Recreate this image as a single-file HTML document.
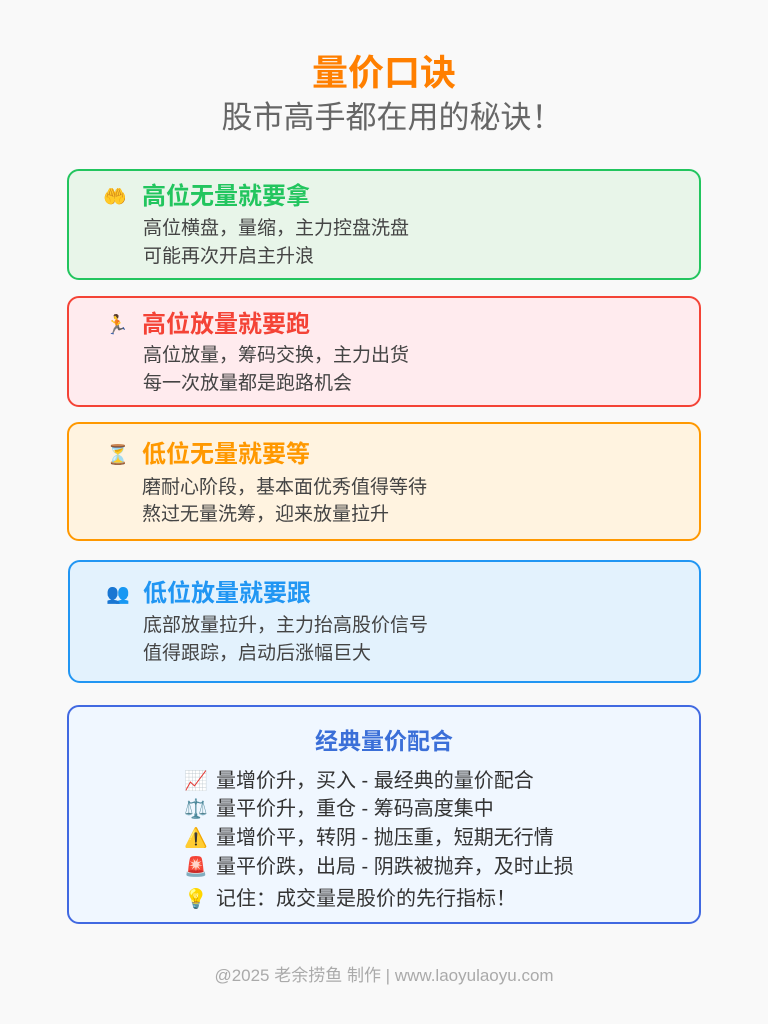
<!DOCTYPE html>
<html><head><meta charset="utf-8"><style>
*{margin:0;padding:0;box-sizing:border-box}
body{width:768px;height:1024px;background:#f9f9f9;font-family:"Liberation Sans","Noto Sans CJK SC",sans-serif;position:relative;overflow:hidden}
.t{position:absolute;white-space:nowrap;line-height:30px;height:30px}
.box{position:absolute;border:2px solid;border-radius:12px}
.h{font-size:24px;font-weight:bold}
.b{font-size:19px;color:#444}
.ic{font-size:19px;font-family:"Noto Color Emoji","DejaVu Sans",sans-serif}
.l{font-size:20px;color:#333}
</style></head><body>
<div class="t" style="left:0;width:768px;text-align:center;top:54px;height:38px;line-height:38px;font-size:36px;font-weight:bold;color:#ff7f00">量价口诀</div>
<div class="t" style="left:8px;width:768px;text-align:center;top:100px;height:36px;line-height:36px;font-size:31px;color:#666">股市高手都在用的秘诀！</div>

<div class="box" style="left:67px;top:169px;width:634px;height:111px;border-color:#22c55e;background:#e8f5e9"></div>
<div class="t ic" style="left:103px;top:182px">🤲</div>
<div class="t h" style="left:142px;top:182px;color:#22c55e">高位无量就要拿</div>
<div class="t b" style="left:143px;top:214px">高位横盘，量缩，主力控盘洗盘</div>
<div class="t b" style="left:143px;top:242px">可能再次开启主升浪</div>

<div class="box" style="left:67px;top:296px;width:634px;height:111px;border-color:#f44336;background:#ffebee"></div>
<div class="t ic" style="left:105px;top:310px">🏃</div>
<div class="t h" style="left:142px;top:310px;color:#f44336">高位放量就要跑</div>
<div class="t b" style="left:143px;top:341px">高位放量，筹码交换，主力出货</div>
<div class="t b" style="left:143px;top:369px">每一次放量都是跑路机会</div>

<div class="box" style="left:67px;top:422px;width:634px;height:119px;border-color:#ff9800;background:#fff3e0"></div>
<div class="t ic" style="left:106px;top:440px">⏳</div>
<div class="t h" style="left:142px;top:440px;color:#ff9800">低位无量就要等</div>
<div class="t b" style="left:142px;top:473px">磨耐心阶段，基本面优秀值得等待</div>
<div class="t b" style="left:142px;top:500px">熬过无量洗筹，迎来放量拉升</div>

<div class="box" style="left:68px;top:560px;width:633px;height:123px;border-color:#2196f3;background:#e3f2fd"></div>
<div class="t ic" style="left:106px;top:579px">👥</div>
<div class="t h" style="left:143px;top:579px;color:#2196f3">低位放量就要跟</div>
<div class="t b" style="left:143px;top:611px">底部放量拉升，主力抬高股价信号</div>
<div class="t b" style="left:143px;top:639px">值得跟踪，启动后涨幅巨大</div>

<div class="box" style="left:67px;top:705px;width:634px;height:219px;border-color:#4169e1;background:#f0f7ff"></div>
<div class="t" style="left:0;width:768px;text-align:center;top:726px;font-size:23px;font-weight:bold;color:#3b6fd8">经典量价配合</div>
<div class="t ic" style="left:184px;top:766px">📈</div><div class="t l" style="left:216px;top:766px">量增价升，买入 - 最经典的量价配合</div>
<div class="t ic" style="left:184px;top:794px">⚖️</div><div class="t l" style="left:216px;top:794px">量平价升，重仓 - 筹码高度集中</div>
<div class="t ic" style="left:184px;top:823px">⚠️</div><div class="t l" style="left:216px;top:823px">量增价平，转阴 - 抛压重，短期无行情</div>
<div class="t ic" style="left:184px;top:852px">🚨</div><div class="t l" style="left:216px;top:852px">量平价跌，出局 - 阴跌被抛弃，及时止损</div>
<div class="t ic" style="left:184px;top:884px">💡</div><div class="t l" style="left:216px;top:884px">记住：成交量是股价的先行指标！</div>

<div class="t" style="left:0;width:768px;text-align:center;top:961px;font-size:17px;color:#aaa">@2025 老余捞鱼 制作 | www.laoyulaoyu.com</div>
</body></html>
